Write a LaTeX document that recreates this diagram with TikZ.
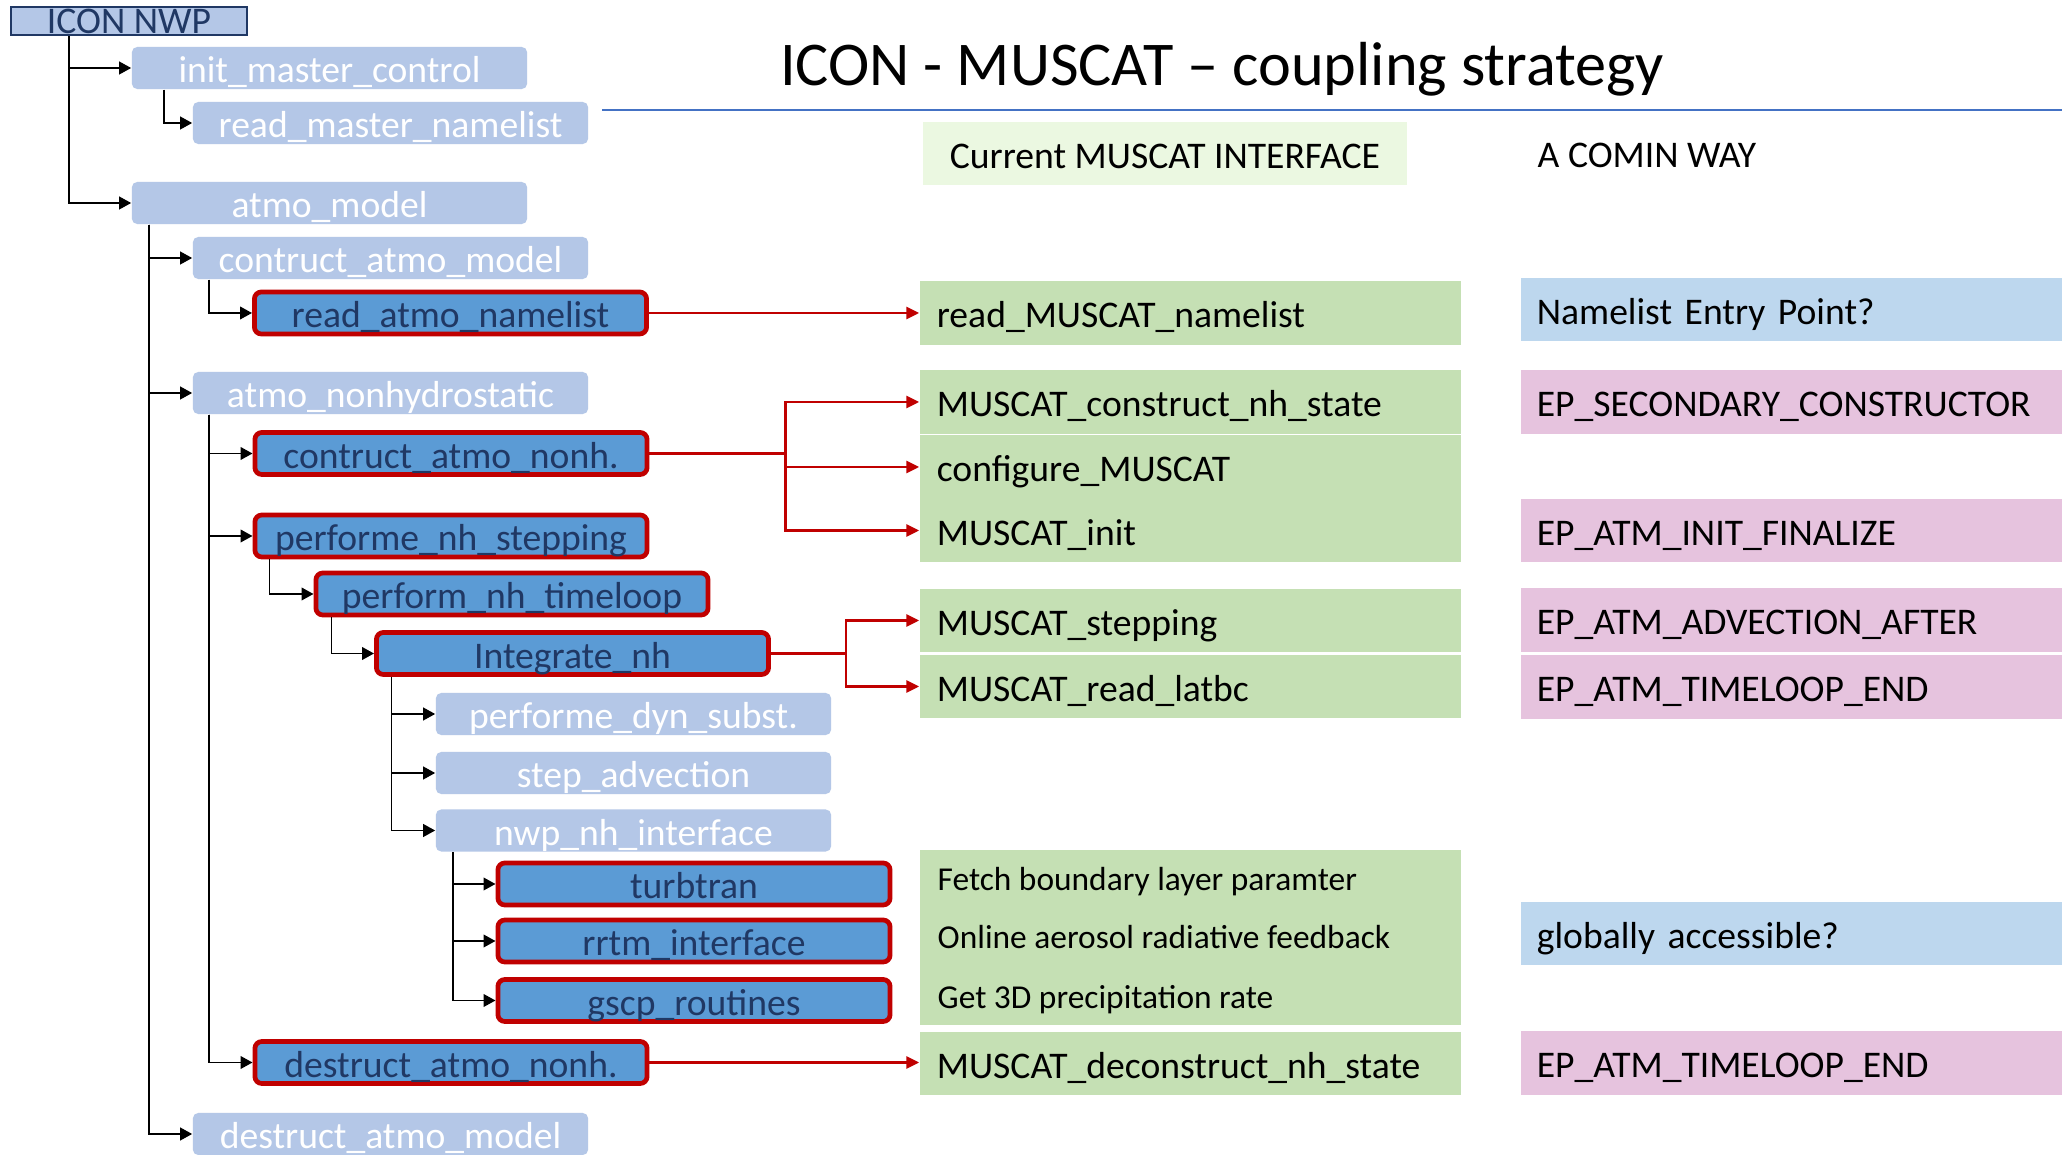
\documentclass[tikz,border=0pt]{standalone}
\usepackage{fontspec}
\setmainfont{Carlito}
\usetikzlibrary{arrows.meta,calc}
\definecolor{lightbox}{HTML}{B4C7E7}
\definecolor{darkbox}{HTML}{5B9BD5}
\definecolor{navytext}{HTML}{203864}
\definecolor{redline}{HTML}{C00000}
\definecolor{musgreen}{HTML}{C5E0B4}
\definecolor{headgreen}{HTML}{EBF8E1}
\definecolor{cominblue}{HTML}{BDD7EE}
\definecolor{cominpink}{HTML}{E6C3DE}
\definecolor{ruleblue}{HTML}{4472C4}
\def\lblfont{\fontsize{10.7}{12.8}\selectfont}
\def\smlfont{\fontsize{9.5}{11.4}\selectfont}
\def\ttlfont{\fontsize{17.7}{21}\selectfont}
\tikzset{
  lowtext/.style={text height=0.95em, text depth=0.12em},
  callbox/.style={lowtext, fill=lightbox, text=white, rounded corners=1.5pt, minimum width=3.95cm, minimum height=0.42cm, inner sep=0pt, font=\lblfont},
  hotbox/.style={lowtext, draw=redline, line width=1.35pt, fill=darkbox, text=navytext, rounded corners=2pt, minimum width=3.92cm, minimum height=0.42cm, inner sep=0pt, font=\lblfont},
  tree/.style={line width=0.5pt, -{Triangle[length=3.4pt,width=3.6pt]}},
  link/.style={draw=redline, line width=0.7pt, -{Triangle[length=3.6pt,width=3.4pt]}},
  musbox/.style={lowtext, fill=musgreen, text width=5.07cm, inner xsep=0.17cm, inner ysep=0pt, minimum height=0.63cm, align=left, font=\lblfont},
  cominbox/.style={lowtext, text width=5.09cm, inner xsep=0.16cm, inner ysep=0pt, minimum height=0.63cm, align=left, font=\lblfont},
}

\begin{document}
\begin{tikzpicture}[x=0.01cm,y=-0.01cm]
	%%%%% FRAME %%%%%
	\fill[white] (0,0) rectangle (2062,1155);
	\useasboundingbox (0,0) rectangle (2062,1155);

	%%%%% HEADER %%%%%
	\node[anchor=base, font=\ttlfont, inner sep=0pt] (title) at (1222,86) {ICON - MUSCAT – coupling strategy};
	\coordinate (ruleL) at (602,110);
	\coordinate (ruleR) at (2062,110);
	\draw[ruleblue, line width=0.6pt] (ruleL) -- (ruleR);
	\node[lowtext, fill=headgreen, minimum width=4.84cm, minimum height=0.63cm, inner sep=0pt, font=\lblfont] (current) at (1165,153.5) {Current MUSCAT INTERFACE};
	\node[anchor=base west, inner sep=0pt, font=\lblfont] (comin) at (1537,168) {A COMIN WAY};

	%%%%% CALL TREE %%%%%
	\node[draw=navytext, line width=0.7pt, fill=lightbox, text=navytext, minimum width=2.36cm, minimum height=0.28cm, inner sep=0pt, font=\lblfont] (icon) at (129,21) {ICON NWP};
	\node[callbox] (init) at (329.5,68) {init\_master\_control};
	\node[callbox] (rdmaster) at (390.5,123) {read\_master\_namelist};
	\node[callbox] (atmo) at (329.5,203) {atmo\_model};
	\node[callbox] (contr) at (390.5,258) {contruct\_atmo\_model};
	\node[hotbox] (rdatmo) at (450.5,313) {read\_atmo\_namelist};
	\node[callbox] (nonhyd) at (390.5,393) {atmo\_nonhydrostatic};
	\node[hotbox] (cnonh) at (451,453.5) {contruct\_atmo\_nonh.};
	\node[hotbox] (stepping) at (451,536) {performe\_nh\_stepping};
	\node[hotbox] (timeloop) at (512,594) {perform\_nh\_timeloop};
	\node[hotbox] (integ) at (572.5,653.5) {Integrate\_nh};
	\node[callbox] (dyn) at (633.5,714) {performe\_dyn\_subst.};
	\node[callbox] (adv) at (633.5,773) {step\_advection};
	\node[callbox] (nwp) at (633.5,830.5) {nwp\_nh\_interface};
	\node[hotbox] (turb) at (694,884) {turbtran};
	\node[hotbox] (rrtm) at (694,941) {rrtm\_interface};
	\node[hotbox] (gscp) at (694,1000.5) {gscp\_routines};
	\node[hotbox] (dnonh) at (451,1062.5) {destruct\_atmo\_nonh.};
	\node[callbox] (dmodel) at (390.5,1134) {destruct\_atmo\_model};

	\draw[tree] ($(icon.south west)+(59,0)$) |- (init.west);
	\draw[tree] ($(icon.south west)+(59,0)$) |- (atmo.west);
	\draw[tree] ($(init.south west)+(33,0)$) |- (rdmaster.west);
	\draw[tree] ($(atmo.south west)+(18,0)$) |- (contr.west);
	\draw[tree] ($(atmo.south west)+(18,0)$) |- (nonhyd.west);
	\draw[tree] ($(atmo.south west)+(18,0)$) |- (dmodel.west);
	\draw[tree] ($(contr.south west)+(17,0)$) |- (rdatmo.west);
	\draw[tree] ($(nonhyd.south west)+(16.5,0)$) |- (cnonh.west);
	\draw[tree] ($(nonhyd.south west)+(16.5,0)$) |- (stepping.west);
	\draw[tree] ($(nonhyd.south west)+(16.5,0)$) |- (dnonh.west);
	\draw[tree] ($(stepping.south west)+(17,0)$) |- (timeloop.west);
	\draw[tree] ($(timeloop.south west)+(18,0)$) |- (integ.west);
	\draw[tree] ($(integ.south west)+(17.5,0)$) |- (dyn.west);
	\draw[tree] ($(integ.south west)+(17.5,0)$) |- (adv.west);
	\draw[tree] ($(integ.south west)+(17.5,0)$) |- (nwp.west);
	\draw[tree] ($(nwp.south west)+(18,0)$) |- (turb.west);
	\draw[tree] ($(nwp.south west)+(18,0)$) |- (rrtm.west);
	\draw[tree] ($(nwp.south west)+(18,0)$) |- (gscp.west);

	%%%%% MUSCAT INTERFACE %%%%%
	\node[musbox] (rdmus) at (1190.5,313) {read\_MUSCAT\_namelist};
	\node[musbox] (mcons) at (1190.5,402) {MUSCAT\_construct\_nh\_state};
	\node[musbox] (config) at (1190.5,467) {configure\_MUSCAT};
	\node[musbox] (minit) at (1190.5,530.5) {MUSCAT\_init};
	\node[musbox] (mstep) at (1190.5,620.5) {MUSCAT\_stepping};
	\node[musbox] (mlatbc) at (1190.5,686.5) {MUSCAT\_read\_latbc};
	\node[musbox, minimum height=1.75cm] (phys) at (1190.5,937.5) {};
	\node[anchor=west, inner sep=0pt, font=\smlfont] (fetch) at (937,882) {Fetch boundary layer paramter};
	\node[anchor=west, inner sep=0pt, font=\smlfont] (online) at (937,937) {Online aerosol radiative feedback};
	\node[anchor=west, inner sep=0pt, font=\smlfont] (precip) at (937,1000) {Get 3D precipitation rate};
	\node[musbox] (mdecon) at (1190.5,1063.5) {MUSCAT\_deconstruct\_nh\_state};

	\draw[link] (rdatmo.east) -- (rdatmo.east -| rdmus.west);
	\coordinate (forkA) at ($(cnonh.east)+(136,0)$);
	\draw[link] (cnonh.east) -- (forkA) |- (mcons.west);
	\draw[link] (cnonh.east) -- (forkA) |- (config.west);
	\draw[link] (cnonh.east) -- (forkA) |- (minit.west);
	\coordinate (forkB) at ($(integ.east)+(75,0)$);
	\draw[link] (integ.east) -- (forkB) |- (mstep.west);
	\draw[link] (integ.east) -- (forkB) |- (mlatbc.west);
	\draw[link] (dnonh.east) -- (dnonh.east -| mdecon.west);

	%%%%% COMIN WAY %%%%%
	\node[cominbox, fill=cominblue] (nlentry) at (1791.5,309.5) {Namelist Entry Point?};
	\node[cominbox, fill=cominpink] (epsec) at (1791.5,402) {EP\_SECONDARY\_CONSTRUCTOR};
	\node[cominbox, fill=cominpink] (epinit) at (1791.5,530.5) {EP\_ATM\_INIT\_FINALIZE};
	\node[cominbox, fill=cominpink] (epadv) at (1791.5,620) {EP\_ATM\_ADVECTION\_AFTER};
	\node[cominbox, fill=cominpink] (eptl) at (1791.5,687) {EP\_ATM\_TIMELOOP\_END};
	\node[cominbox, fill=cominblue] (global) at (1791.5,933.5) {globally accessible?};
	\node[cominbox, fill=cominpink] (eptlend) at (1791.5,1063) {EP\_ATM\_TIMELOOP\_END};
\end{tikzpicture}
\end{document}
